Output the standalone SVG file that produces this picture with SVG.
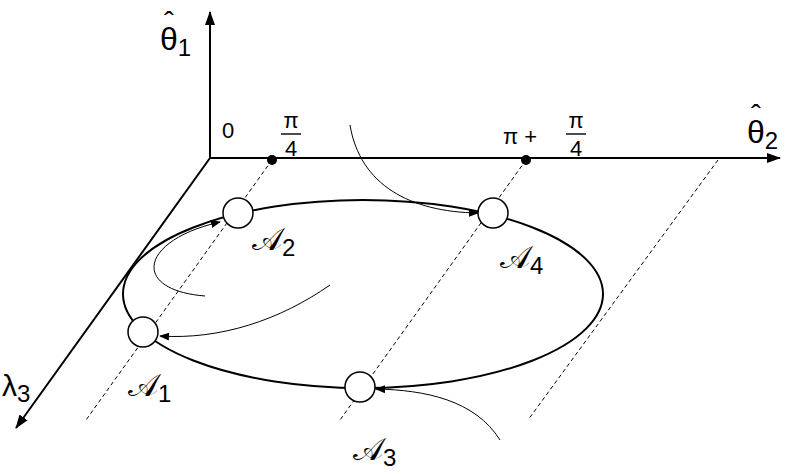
<svg xmlns="http://www.w3.org/2000/svg" width="809" height="474" viewBox="0 0 809 474">
<style>
.ax{stroke:#000;stroke-width:2;fill:none}
.d{stroke:#000;stroke-width:1;stroke-dasharray:4 3;fill:none}
.c{stroke:#000;stroke-width:1;fill:none}
.n{stroke:#000;stroke-width:1.5;fill:#fff}
text{font-family:"Liberation Sans",Arial,sans-serif;fill:#000}
.s{font-family:"DejaVu Serif","Noto Sans","Liberation Serif",serif}
.sub{font-family:"Liberation Sans",Arial,sans-serif;font-style:normal}
</style>
<defs>
<marker id="a" markerWidth="10" markerHeight="10" refX="9" refY="5" orient="auto" markerUnits="userSpaceOnUse"><path d="M0,1 L10,5 L0,9 Z" fill="#000"/></marker>
<marker id="b" markerWidth="14" markerHeight="12" refX="13" refY="6" orient="auto" markerUnits="userSpaceOnUse"><path d="M0,1 L14,6 L0,11 Z" fill="#000"/></marker>
</defs>
<g id="axes">
<line class="ax" x1="210" y1="158" x2="210" y2="12" marker-end="url(#b)"/>
<line class="ax" x1="210" y1="158" x2="780" y2="158" marker-end="url(#b)"/>
<line class="ax" x1="210" y1="158" x2="16" y2="428" marker-end="url(#b)"/>
<text x="160" y="50" font-size="32">θ<tspan font-size="24" dy="6">1</tspan></text>
<text x="164" y="32" font-size="30">ˆ</text>
<text x="747" y="143" font-size="32">θ<tspan font-size="24" dy="6">2</tspan></text>
<text x="751" y="125" font-size="30">ˆ</text>
<text x="2" y="396" font-size="30">λ<tspan font-size="24" dy="6">3</tspan></text>
<text x="222" y="138" font-size="22">0</text>
<text x="291" y="128" font-size="22" text-anchor="middle">π</text>
<line x1="281" y1="134" x2="301" y2="134" stroke="#000" stroke-width="1.4"/>
<text x="291" y="156" font-size="22" text-anchor="middle">4</text>
<text x="503" y="144" font-size="22">π +</text>
<text x="576" y="128" font-size="22" text-anchor="middle">π</text>
<line x1="566" y1="134" x2="586" y2="134" stroke="#000" stroke-width="1.4"/>
<text x="576" y="156" font-size="22" text-anchor="middle">4</text>
<circle cx="272" cy="160" r="5"/>
<circle cx="526" cy="160" r="5"/>
</g>
<g id="dashes">
<line class="d" x1="272" y1="160" x2="86" y2="420"/>
<line class="d" x1="526" y1="160" x2="340" y2="420"/>
<line class="d" x1="718" y1="160" x2="528" y2="420"/>
</g>
<ellipse class="ax" cx="363" cy="294" rx="240" ry="94"/>
<g id="connectors">
<path class="c" d="M350,125 C360,185 410,212 478,213" marker-end="url(#a)"/>
<path class="c" d="M330,285 C280,320 220,340 160,336" marker-end="url(#a)"/>
<path class="c" d="M205,296 C130,290 140,240 220,222" marker-end="url(#a)"/>
<path class="c" d="M500,440 C475,400 425,390 376,389" marker-end="url(#a)"/>
</g>
<g id="A2"><circle class="n" cx="238" cy="213" r="15"/><text class="s" x="252" y="250" font-size="32">𝒜<tspan class="sub" font-size="24" dy="6">2</tspan></text></g>
<g id="A4"><circle class="n" cx="493" cy="213" r="15"/><text class="s" x="500" y="268" font-size="32">𝒜<tspan class="sub" font-size="24" dy="6">4</tspan></text></g>
<g id="A1"><circle class="n" cx="143" cy="332" r="15"/><text class="s" x="128" y="396" font-size="32">𝒜<tspan class="sub" font-size="24" dy="6">1</tspan></text></g>
<g id="A3"><circle class="n" cx="360" cy="387" r="15"/><text class="s" x="353" y="460" font-size="32">𝒜<tspan class="sub" font-size="24" dy="6">3</tspan></text></g>
</svg>
